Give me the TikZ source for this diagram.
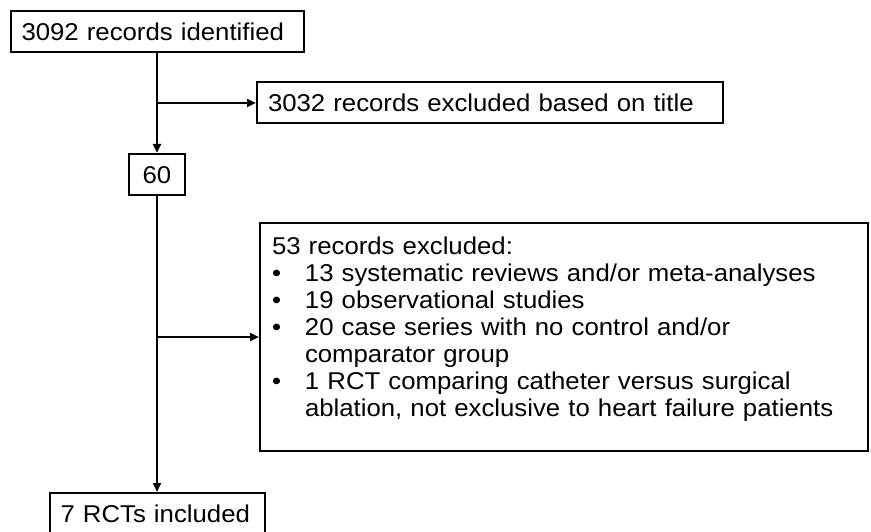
\documentclass[tikz,border=0pt]{standalone}
\usepackage{fontspec}
\setmainfont[FakeStretch=1.06]{Liberation Sans}
\usetikzlibrary{arrows.meta}

\begin{document}
\begin{tikzpicture}[x=1pt, y=-1pt,
    rbox/.style={draw, line width=2pt, align=left, inner ysep=0pt,
        font=\fontsize{24.3}{27}\selectfont},
    onebox/.style={rbox, inner xsep=11pt, text height=17.7pt, text depth=0pt,
        minimum height=41pt},
    flow/.style={line width=2.8pt, -{Triangle[length=9pt,width=8pt]}}]
    \useasboundingbox (0,0) rectangle (871,532);

    \coordinate (c1) at (157,32);
    \coordinate (c2) at (490,103);
    \coordinate (c3) at (157,174.5);
    \coordinate (c4) at (564,337);
    \coordinate (c5) at (157,513.5);
    \coordinate (j1) at (157,103);
    \coordinate (j2) at (157,337);

    \node at (c1)[onebox, text width=271pt] (ident) {3092 records identified};
    \node at (c2)[onebox, text width=444pt] (title) {3032 records excluded based on title};
    \node at (c3)[onebox, text width=34pt, align=center] (sixty) {60};
    \node at (c4)[rbox, inner xsep=12pt, text width=584pt, minimum height=228pt] (reasons) {%
        53 records excluded:\\
        \makebox[33pt][l]{\textbullet}13 systematic reviews and/or meta-analyses\\
        \makebox[33pt][l]{\textbullet}19 observational studies\\
        \makebox[33pt][l]{\textbullet}20 case series with no control and/or\\
        \makebox[33pt]{}comparator group\\
        \makebox[33pt][l]{\textbullet}1 RCT comparing catheter versus surgical\\
        \makebox[33pt]{}ablation, not exclusive to heart failure patients\rule[-20.3pt]{0pt}{20.3pt}};
    \node at (c5)[onebox, text width=193pt] (incl) {7 RCTs included};

    \draw[flow] (ident) -- (sixty);
    \draw[flow] (sixty) -- (incl);
    \draw[flow] (j1) -- (title);
    \draw[flow] (j2) -- (reasons);
\end{tikzpicture}
\end{document}
